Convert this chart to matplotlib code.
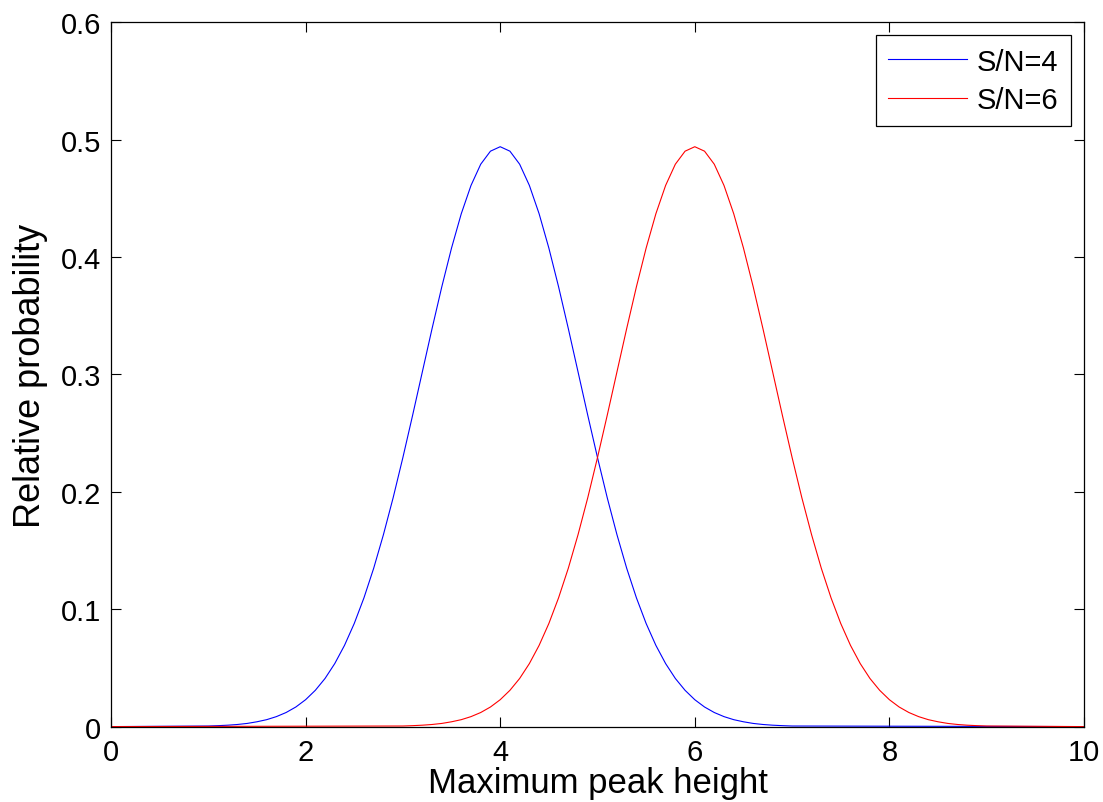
# Import libraries
import matplotlib
matplotlib.use("Agg")
import matplotlib.pyplot as plt
import numpy as np

# x grid of the curved part of each line (plus flat ends at 0 and 10)
blue_x = np.round(np.arange(1.0, 7.05, 0.1), 1)
red_x = np.round(np.arange(3.0, 9.05, 0.1), 1)

# relative probability, S/N=4 (peak at 4)
blue_y = [0.0005, 0.0008, 0.0012, 0.0018, 0.0027, 0.0041, 0.0059, 0.0085, 0.0120, 0.0167,
          0.0229, 0.0309, 0.0410, 0.0537, 0.0692, 0.0878, 0.1097, 0.1349, 0.1635, 0.1950,
          0.2292, 0.2652, 0.3022, 0.3391, 0.3747, 0.4077, 0.4369, 0.4610, 0.4791, 0.4902,
          0.4940,
          0.4902, 0.4791, 0.4610, 0.4369, 0.4077, 0.3747, 0.3391, 0.3022, 0.2652, 0.2292,
          0.1950, 0.1635, 0.1349, 0.1097, 0.0878, 0.0692, 0.0537, 0.0410, 0.0309, 0.0229,
          0.0167, 0.0120, 0.0085, 0.0059, 0.0041, 0.0027, 0.0018, 0.0012, 0.0008, 0.0005]

# S/N=6 (peak at 6)
red_y = [0.0005, 0.0008, 0.0012, 0.0018, 0.0027, 0.0041, 0.0059, 0.0085, 0.0120, 0.0167,
         0.0229, 0.0309, 0.0410, 0.0537, 0.0692, 0.0878, 0.1097, 0.1349, 0.1635, 0.1950,
         0.2292, 0.2652, 0.3022, 0.3391, 0.3747, 0.4077, 0.4369, 0.4610, 0.4791, 0.4902,
         0.4940,
         0.4902, 0.4791, 0.4610, 0.4369, 0.4077, 0.3747, 0.3391, 0.3022, 0.2652, 0.2292,
         0.1950, 0.1635, 0.1349, 0.1097, 0.0878, 0.0692, 0.0537, 0.0410, 0.0309, 0.0229,
         0.0167, 0.0120, 0.0085, 0.0059, 0.0041, 0.0027, 0.0018, 0.0012, 0.0008, 0.0005]

x_range = [0, 10]
x_ticks = [0, 2, 4, 6, 8, 10]
y_ticks = [0, 0.1, 0.2, 0.3, 0.4, 0.5, 0.6]
y_tick_labels = ["0", "0.1", "0.2", "0.3", "0.4", "0.5", "0.6"]
labels = ["S/N=4", "S/N=6"]

plt.rcParams["font.family"] = ["Liberation Sans", "DejaVu Sans"]
plt.rcParams["font.size"] = 20

fig = plt.figure(figsize=(11.03, 8.03), dpi=100)
ax = fig.add_axes([0.1006, 0.0939, 0.8822, 0.8771])

ax.plot(np.concatenate([[x_range[0]], blue_x, [x_range[1]]]),
        np.concatenate([[0], blue_y, [0]]),
        color="blue", linewidth=0.8, label=labels[0])
ax.plot(np.concatenate([[x_range[0]], red_x, [x_range[1]]]),
        np.concatenate([[0], red_y, [0]]),
        color="red", linewidth=0.8, label=labels[1])

ax.set_xlim(x_range)
ax.set_ylim(0, 0.6)
ax.set_xticks(x_ticks)
ax.set_xticklabels([str(t) for t in x_ticks])
ax.set_yticks(y_ticks)
ax.set_yticklabels(y_tick_labels)
ax.tick_params(direction="in", length=7, width=0.8, top=True, right=True,
               labelsize=21)
ax.tick_params(axis="x", pad=8)
ax.tick_params(axis="y", pad=7)
for s in ax.spines.values():
    s.set_linewidth(0.9)

ax.set_xlabel("Maximum peak height", fontsize=25, labelpad=0)
ax.set_ylabel("Relative probability", fontsize=26, labelpad=9)

leg = ax.legend(loc="upper right", fontsize=21, frameon=True, fancybox=False,
                edgecolor="black", framealpha=1, borderaxespad=0.45,
                handlelength=2.7, handletextpad=0.35, borderpad=0.42,
                labelspacing=0.35)
leg.get_frame().set_linewidth(0.9)

fig.savefig("out.png", dpi=100)
